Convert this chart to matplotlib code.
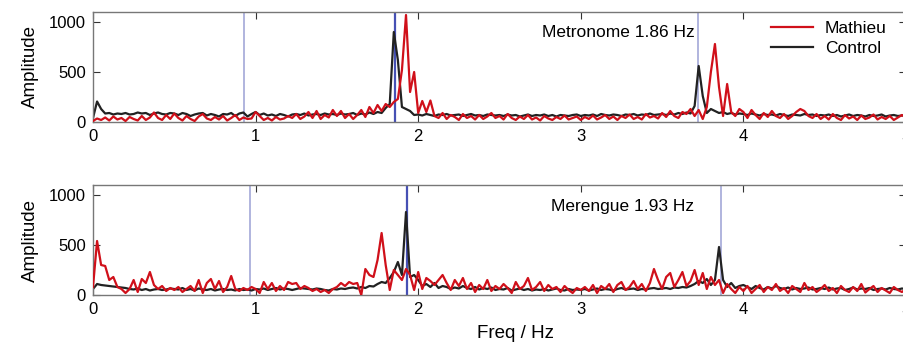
import numpy as np
import matplotlib
matplotlib.use("Agg")
import matplotlib.pyplot as plt

plt.rcParams['font.family'] = ['Liberation Sans', 'DejaVu Sans']

# frequency grid, 0.025 Hz steps from 0 to 5 Hz
freq = np.linspace(0, 5, 201)

# Metronome condition (1.86 Hz)
ctrl_met = [
    40, 205, 130, 85, 90, 75, 85, 80, 90, 75, 80, 95, 85, 90, 70, 85, 95, 80, 75, 90,
    85, 70, 90, 80, 60, 75, 85, 90, 65, 80, 70, 55, 80, 75, 90, 60, 85, 95, 55, 80,
    100, 70, 85, 65, 75, 60, 80, 70, 55, 75, 80, 70, 85, 65, 75, 80, 70, 85, 75, 80,
    70, 85, 75, 80, 90, 70, 85, 75, 95, 80, 100, 90, 140, 180, 900, 620, 150, 130, 110, 70,
    75, 65, 80, 70, 60, 75, 70, 80, 65, 70, 75, 60, 70, 80, 65, 70, 60, 75, 70, 65,
    70, 60, 75, 65, 70, 55, 65, 75, 60, 70, 65, 75, 60, 70, 55, 70, 65, 60, 70, 75,
    60, 70, 65, 75, 60, 80, 70, 65, 75, 70, 60, 75, 70, 80, 65, 75, 70, 85, 70, 75,
    80, 70, 85, 75, 90, 80, 95, 85, 160, 560, 260, 90, 130, 110, 90, 100, 80, 90, 75, 85,
    80, 70, 85, 75, 65, 80, 70, 75, 65, 80, 70, 60, 75, 70, 65, 80, 70, 75, 60, 70,
    65, 75, 60, 70, 55, 65, 75, 60, 70, 65, 55, 70, 60, 65, 75, 55, 65, 70, 60, 65,
    70,
]
math_met = [
    10, 35, 20, 45, 15, 55, 25, 40, 10, 50, 30, 15, 60, 20, 45, 95, 40, 20, 70, 30,
    85, 40, 15, 60, 30, 10, 55, 80, 35, 20, 50, 25, 60, 15, 40, 70, 20, 45, 30, 35,
    100, 60, 20, 40, 15, 50, 25, 35, 60, 40, 80, 30, 55, 100, 40, 110, 30, 70, 45, 120,
    60, 110, 40, 80, 30, 70, 120, 50, 150, 90, 170, 110, 180, 150, 200, 230, 520, 1070, 300, 500,
    90, 210, 100, 215, 60, 40, 90, 30, 70, 50, 20, 80, 40, 60, 25, 70, 30, 55, 90, 40,
    60, 25, 80, 40, 20, 55, 30, 70, 25, 45, 15, 60, 35, 20, 50, 30, 65, 25, 40, 55,
    20, 50, 30, 65, 25, 45, 70, 30, 55, 20, 60, 40, 75, 30, 50, 25, 80, 45, 60, 35,
    90, 50, 110, 60, 40, 100, 80, 130, 60, 120, 30, 150, 500, 780, 350, 60, 380, 100, 60, 130,
    100, 40, 120, 70, 30, 90, 50, 110, 60, 40, 80, 30, 60, 100, 130, 110, 60, 40, 80, 30,
    60, 25, 80, 40, 20, 70, 35, 55, 20, 65, 30, 45, 75, 25, 50, 30, 60, 20, 45, 70,
    40,
]

# Merengue condition (1.93 Hz)
ctrl_mer = [
    60, 110, 100, 95, 90, 85, 80, 75, 70, 60, 55, 65, 50, 60, 45, 55, 60, 50, 55, 65,
    60, 55, 70, 50, 60, 45, 65, 55, 50, 60, 45, 55, 60, 50, 55, 45, 60, 50, 55, 45,
    60, 55, 65, 50, 60, 70, 55, 65, 60, 50, 60, 70, 65, 60, 55, 65, 60, 50, 45, 60,
    55, 65, 60, 70, 75, 65, 80, 70, 90, 85, 110, 130, 120, 170, 230, 330, 200, 830, 180, 200,
    150, 90, 110, 80, 120, 70, 90, 80, 60, 75, 65, 90, 70, 60, 80, 55, 70, 60, 75, 50,
    60, 55, 70, 45, 55, 65, 50, 60, 45, 55, 50, 60, 45, 55, 65, 50, 45, 60, 50, 55,
    50, 60, 45, 55, 65, 50, 60, 55, 45, 60, 70, 55, 60, 65, 50, 60, 55, 65, 70, 60,
    65, 70, 60, 75, 70, 80, 75, 90, 110, 140, 120, 160, 100, 150, 480, 150, 80, 120, 70, 90,
    100, 80, 60, 90, 70, 55, 80, 65, 90, 70, 60, 75, 55, 70, 60, 65, 75, 55, 60, 70,
    60, 75, 55, 65, 70, 50, 60, 75, 55, 65, 60, 70, 50, 60, 65, 55, 70, 60, 55, 65,
    60,
]
math_mer = [
    80, 540, 300, 290, 150, 180, 80, 60, 20, 60, 150, 30, 160, 120, 230, 100, 60, 90, 40, 70,
    50, 80, 30, 60, 90, 40, 150, 20, 120, 160, 60, 140, 30, 80, 190, 60, 40, 70, 50, 80,
    60, 20, 130, 60, 120, 40, 90, 50, 130, 110, 120, 60, 90, 70, 40, 60, 30, 50, 20, 60,
    80, 120, 90, 130, 110, 120, 0, 260, 200, 180, 350, 620, 300, 50, 250, 200, 150, 260, 200, 50,
    230, 60, 170, 140, 100, 150, 200, 120, 50, 150, 90, 170, 60, 120, 30, 100, 60, 150, 40, 90,
    60, 110, 70, 20, 130, 60, 90, 170, 50, 80, 130, 40, 100, 60, 80, 30, 90, 50, 20, 70,
    50, 80, 40, 100, 20, 90, 60, 110, 30, 100, 130, 50, 80, 140, 60, 110, 40, 120, 260, 150,
    60, 180, 220, 80, 150, 230, 90, 140, 250, 100, 220, 60, 180, 100, 150, 20, 110, 60, 20, 80,
    40, 90, 20, 60, 100, 30, 80, 50, 110, 40, 70, 20, 90, 60, 30, 120, 50, 80, 30, 60,
    100, 40, 70, 20, 90, 50, 30, 80, 40, 110, 25, 60, 90, 30, 70, 45, 20, 80, 50, 30,
    60,
]

# reference lines (half, beat, double beat)
met_lines = [0.93, 1.86, 3.72]
mer_lines = [0.965, 1.93, 3.86]

red = '#d0101a'
blk = '#222222'
light_blue = '#a3a8d8'
dark_blue = '#4650b4'

fig = plt.figure(figsize=(9.04, 3.48), dpi=100)
left = 93 / 904
width = (906 - 93) / 904
ax1 = fig.add_axes([left, 1 - 122 / 348, width, 110 / 348])
ax2 = fig.add_axes([left, 1 - 295 / 348, width, 110 / 348])

for ax, ctrl, mat, lines, label, ty in [
    (ax1, ctrl_met, math_met, met_lines, 'Metronome 1.86 Hz', 0.81),
    (ax2, ctrl_mer, math_mer, mer_lines, 'Merengue 1.93 Hz', 0.80),
]:
    for i, x in enumerate(lines):
        ax.axvline(x, color=dark_blue if i == 1 else light_blue,
                   lw=1.6 if i == 1 else 1.2, zorder=1)
    ax.plot(freq, mat, color=red, lw=1.6, label='Mathieu', zorder=3)
    ax.plot(freq, ctrl, color=blk, lw=1.6, label='Control', zorder=2)
    ax.set_xlim(0, 5)
    ax.set_ylim(0, 1100)
    ax.set_xticks([0, 1, 2, 3, 4, 5])
    ax.set_yticks([0, 500, 1000])
    ax.tick_params(direction='in', top=True, right=True, length=5,
                   labelsize=12, colors='#333333', labelcolor='black', pad=5)
    for s in ax.spines.values():
        s.set_color('#777777')
        s.set_linewidth(1.0)
    ax.set_ylabel('Amplitude', fontsize=13.5, labelpad=7)
    ax.text(0.74, ty, label, transform=ax.transAxes, ha='right',
            va='center', fontsize=12.5)

ax1.legend(loc='upper left', bbox_to_anchor=(0.815, 1.06), frameon=False,
           fontsize=12.5, handlelength=2.4, handletextpad=0.7, labelspacing=0.25)
ax2.set_xlabel('Freq / Hz', fontsize=13.5)
ax2.xaxis.set_label_coords(0.52, -0.27)

fig.savefig('out.png', dpi=100)
